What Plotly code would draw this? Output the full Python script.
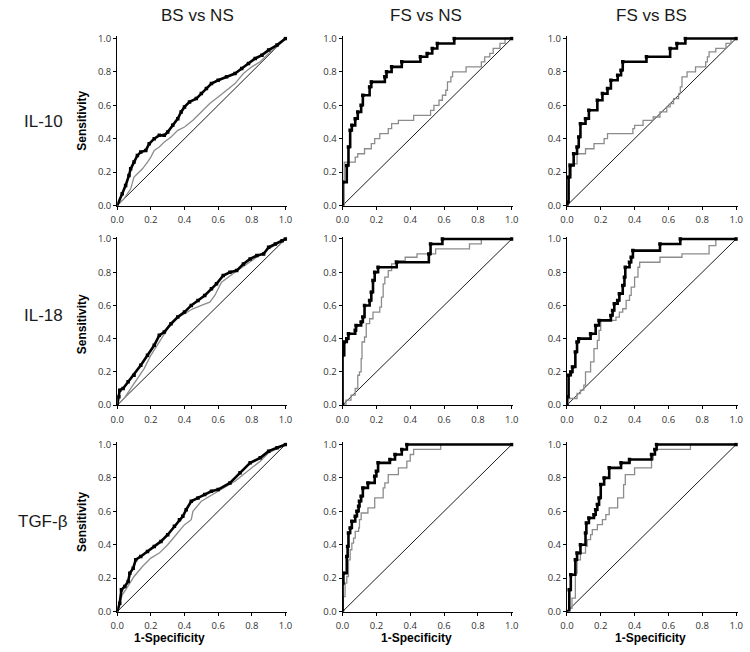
import plotly.graph_objects as go

# ---------------- data ----------------
col_titles = ["BS vs NS", "FS vs NS", "FS vs BS"]
row_labels = ["IL-10", "IL-18", "TGF-β"]
tick_vals = [0.0, 0.2, 0.4, 0.6, 0.8, 1.0]
diag = [0, 1]

# IL-10, BS vs NS
il10_bsns_black_x = [0, 0.03, 0.05, 0.07, 0.08, 0.10, 0.12, 0.14, 0.17, 0.19, 0.22, 0.25, 0.28, 0.30, 0.33, 0.36, 0.38, 0.40, 0.43, 0.47, 0.50, 0.53, 0.56, 0.60, 0.65, 0.70, 0.74, 0.78, 0.82, 0.86, 0.90, 0.95, 1.0]
il10_bsns_black_y = [0, 0.07, 0.12, 0.18, 0.22, 0.26, 0.30, 0.32, 0.33, 0.37, 0.40, 0.42, 0.42, 0.44, 0.48, 0.52, 0.56, 0.59, 0.62, 0.64, 0.67, 0.70, 0.73, 0.75, 0.77, 0.79, 0.82, 0.85, 0.88, 0.90, 0.93, 0.96, 1.0]
il10_bsns_gray_x = [0, 0.04, 0.08, 0.10, 0.12, 0.15, 0.18, 0.20, 0.22, 0.25, 0.28, 0.32, 0.36, 0.40, 0.45, 0.50, 0.55, 0.60, 0.65, 0.70, 0.75, 0.80, 0.85, 0.90, 0.95, 1.0]
il10_bsns_gray_y = [0, 0.04, 0.10, 0.17, 0.19, 0.22, 0.26, 0.29, 0.33, 0.35, 0.38, 0.41, 0.45, 0.47, 0.51, 0.56, 0.61, 0.65, 0.69, 0.73, 0.79, 0.83, 0.86, 0.91, 0.95, 1.0]

# IL-10, FS vs NS
il10_fsns_black_x = [0, 0, 0.025, 0.035, 0.045, 0.055, 0.075, 0.09, 0.11, 0.12, 0.16, 0.17, 0.25, 0.26, 0.29, 0.35, 0.46, 0.50, 0.53, 0.56, 0.66, 1.0]
il10_fsns_black_y = [0, 0.14, 0.24, 0.35, 0.45, 0.48, 0.52, 0.56, 0.60, 0.66, 0.71, 0.74, 0.77, 0.80, 0.83, 0.86, 0.89, 0.91, 0.94, 0.97, 1.0, 1.0]
il10_fsns_gray_x = [0, 0.01, 0.075, 0.09, 0.13, 0.17, 0.19, 0.22, 0.27, 0.29, 0.33, 0.42, 0.52, 0.54, 0.57, 0.59, 0.61, 0.62, 0.64, 0.65, 0.73, 0.82, 0.84, 0.87, 0.89, 0.93, 0.96, 1.0]
il10_fsns_gray_y = [0, 0.26, 0.29, 0.31, 0.34, 0.37, 0.40, 0.43, 0.46, 0.49, 0.51, 0.54, 0.57, 0.60, 0.63, 0.66, 0.69, 0.74, 0.77, 0.80, 0.83, 0.86, 0.89, 0.91, 0.94, 0.97, 1.0, 1.0]

# IL-10, FS vs BS
il10_fsbs_black_x = [0, 0, 0.01, 0.02, 0.04, 0.06, 0.07, 0.08, 0.11, 0.13, 0.18, 0.21, 0.24, 0.26, 0.30, 0.32, 0.33, 0.47, 0.61, 0.65, 0.70, 1.0]
il10_fsbs_black_y = [0, 0.02, 0.17, 0.24, 0.31, 0.35, 0.41, 0.49, 0.52, 0.57, 0.63, 0.67, 0.70, 0.75, 0.78, 0.81, 0.86, 0.89, 0.94, 0.97, 1.0, 1.0]
il10_fsbs_gray_x = [0, 0.01, 0.06, 0.11, 0.16, 0.22, 0.24, 0.39, 0.40, 0.45, 0.51, 0.55, 0.59, 0.61, 0.63, 0.66, 0.67, 0.68, 0.71, 0.76, 0.82, 0.83, 0.84, 0.88, 0.94, 0.97, 1.0]
il10_fsbs_gray_y = [0, 0.25, 0.31, 0.34, 0.37, 0.40, 0.43, 0.46, 0.48, 0.51, 0.53, 0.56, 0.59, 0.61, 0.64, 0.67, 0.71, 0.77, 0.80, 0.83, 0.86, 0.89, 0.92, 0.94, 0.97, 1.0, 1.0]

# IL-18, BS vs NS
il18_bsns_black_x = [0, 0.01, 0.015, 0.035, 0.065, 0.10, 0.14, 0.18, 0.22, 0.25, 0.28, 0.32, 0.36, 0.40, 0.44, 0.48, 0.52, 0.56, 0.59, 0.63, 0.67, 0.71, 0.75, 0.79, 0.83, 0.87, 0.90, 0.94, 0.98, 1.0]
il18_bsns_black_y = [0, 0.05, 0.09, 0.10, 0.14, 0.18, 0.24, 0.30, 0.36, 0.42, 0.44, 0.49, 0.53, 0.56, 0.60, 0.63, 0.66, 0.70, 0.73, 0.78, 0.80, 0.81, 0.85, 0.88, 0.90, 0.91, 0.95, 0.97, 0.99, 1.0]
il18_bsns_gray_x = [0, 0.04, 0.08, 0.12, 0.16, 0.20, 0.25, 0.30, 0.35, 0.40, 0.45, 0.50, 0.55, 0.58, 0.62, 0.70, 0.80, 0.90, 1.0]
il18_bsns_gray_y = [0, 0.04, 0.10, 0.16, 0.22, 0.30, 0.38, 0.46, 0.52, 0.55, 0.58, 0.60, 0.62, 0.66, 0.74, 0.80, 0.87, 0.94, 1.0]

# IL-18, FS vs NS
il18_fsns_black_x = [0, 0, 0.01, 0.025, 0.035, 0.075, 0.08, 0.11, 0.12, 0.13, 0.16, 0.17, 0.18, 0.19, 0.21, 0.32, 0.51, 0.52, 0.59, 1.0]
il18_fsns_black_y = [0, 0.30, 0.38, 0.40, 0.43, 0.45, 0.48, 0.50, 0.53, 0.60, 0.63, 0.68, 0.75, 0.80, 0.83, 0.86, 0.91, 0.97, 1.0, 1.0]
il18_fsns_gray_x = [0, 0.02, 0.05, 0.075, 0.09, 0.10, 0.11, 0.115, 0.13, 0.14, 0.16, 0.18, 0.22, 0.23, 0.24, 0.25, 0.27, 0.29, 0.31, 0.37, 0.44, 0.55, 0.75, 0.82, 1.0]
il18_fsns_gray_y = [0, 0.03, 0.06, 0.10, 0.18, 0.20, 0.28, 0.38, 0.41, 0.49, 0.52, 0.56, 0.59, 0.65, 0.73, 0.77, 0.81, 0.85, 0.87, 0.89, 0.91, 0.94, 0.97, 1.0, 1.0]

# IL-18, FS vs BS
il18_fsbs_black_x = [0, 0, 0.01, 0.023, 0.033, 0.05, 0.06, 0.07, 0.14, 0.17, 0.19, 0.26, 0.27, 0.28, 0.30, 0.31, 0.33, 0.34, 0.345, 0.37, 0.38, 0.39, 0.55, 0.67, 1.0]
il18_fsbs_black_y = [0, 0.05, 0.18, 0.20, 0.23, 0.32, 0.38, 0.40, 0.43, 0.48, 0.51, 0.54, 0.57, 0.61, 0.63, 0.67, 0.72, 0.77, 0.83, 0.86, 0.89, 0.93, 0.97, 1.0, 1.0]
il18_fsbs_gray_x = [0, 0.01, 0.06, 0.08, 0.10, 0.11, 0.14, 0.16, 0.18, 0.19, 0.20, 0.29, 0.31, 0.33, 0.35, 0.37, 0.38, 0.40, 0.42, 0.43, 0.55, 0.68, 0.84, 0.88, 1.0]
il18_fsbs_gray_y = [0, 0.04, 0.07, 0.09, 0.12, 0.20, 0.26, 0.34, 0.39, 0.45, 0.51, 0.53, 0.56, 0.58, 0.63, 0.66, 0.71, 0.77, 0.83, 0.86, 0.89, 0.91, 0.96, 1.0, 1.0]

# TGF-β, BS vs NS
tgf_bsns_black_x = [0, 0.015, 0.025, 0.045, 0.065, 0.075, 0.095, 0.11, 0.14, 0.18, 0.22, 0.26, 0.30, 0.34, 0.37, 0.39, 0.41, 0.44, 0.48, 0.52, 0.56, 0.60, 0.67, 0.73, 0.79, 0.85, 0.90, 0.95, 1.0]
tgf_bsns_black_y = [0, 0.05, 0.13, 0.15, 0.18, 0.23, 0.26, 0.31, 0.33, 0.36, 0.39, 0.42, 0.46, 0.51, 0.55, 0.57, 0.61, 0.66, 0.68, 0.70, 0.72, 0.73, 0.77, 0.83, 0.89, 0.92, 0.96, 0.98, 1.0]
tgf_bsns_gray_x = [0, 0.03, 0.05, 0.10, 0.15, 0.20, 0.25, 0.30, 0.35, 0.40, 0.44, 0.45, 0.50, 0.60, 0.70, 0.80, 0.85, 0.90, 1.0]
tgf_bsns_gray_y = [0, 0.10, 0.13, 0.21, 0.27, 0.32, 0.35, 0.40, 0.46, 0.52, 0.55, 0.60, 0.66, 0.72, 0.78, 0.86, 0.90, 0.95, 1.0]

# TGF-β, FS vs NS
tgf_fsns_black_x = [0, 0, 0.005, 0.025, 0.03, 0.035, 0.045, 0.055, 0.075, 0.085, 0.095, 0.10, 0.11, 0.12, 0.15, 0.19, 0.20, 0.21, 0.28, 0.31, 0.35, 0.38, 1.0]
tgf_fsns_black_y = [0, 0.17, 0.23, 0.33, 0.39, 0.47, 0.50, 0.54, 0.57, 0.60, 0.63, 0.66, 0.69, 0.74, 0.77, 0.81, 0.84, 0.89, 0.91, 0.94, 0.97, 1.0, 1.0]
tgf_fsns_gray_x = [0, 0.005, 0.015, 0.025, 0.035, 0.045, 0.055, 0.065, 0.075, 0.095, 0.10, 0.11, 0.15, 0.19, 0.24, 0.25, 0.27, 0.33, 0.38, 0.40, 0.42, 0.58, 1.0]
tgf_fsns_gray_y = [0, 0.09, 0.17, 0.21, 0.31, 0.37, 0.41, 0.44, 0.48, 0.50, 0.55, 0.59, 0.62, 0.68, 0.74, 0.77, 0.82, 0.86, 0.90, 0.94, 0.97, 1.0, 1.0]

# TGF-β, FS vs BS
tgf_fsbs_black_x = [0, 0.014, 0.023, 0.05, 0.06, 0.08, 0.11, 0.115, 0.13, 0.16, 0.17, 0.18, 0.19, 0.20, 0.22, 0.25, 0.32, 0.37, 0.50, 0.52, 0.53, 1.0]
tgf_fsbs_black_y = [0, 0.13, 0.22, 0.31, 0.35, 0.40, 0.47, 0.53, 0.56, 0.58, 0.61, 0.64, 0.68, 0.76, 0.80, 0.86, 0.89, 0.91, 0.94, 0.97, 1.0, 1.0]
tgf_fsbs_gray_x = [0, 0.01, 0.03, 0.05, 0.06, 0.08, 0.11, 0.12, 0.14, 0.15, 0.18, 0.21, 0.23, 0.25, 0.30, 0.335, 0.345, 0.40, 0.50, 0.51, 0.52, 0.73, 1.0]
tgf_fsbs_gray_y = [0, 0.02, 0.08, 0.23, 0.31, 0.35, 0.39, 0.43, 0.46, 0.49, 0.52, 0.55, 0.58, 0.62, 0.68, 0.76, 0.82, 0.86, 0.91, 0.94, 0.97, 1.0, 1.0]

panels = [
    [(il10_bsns_black_x, il10_bsns_black_y, il10_bsns_gray_x, il10_bsns_gray_y, "linear"),
     (il10_fsns_black_x, il10_fsns_black_y, il10_fsns_gray_x, il10_fsns_gray_y, "hv"),
     (il10_fsbs_black_x, il10_fsbs_black_y, il10_fsbs_gray_x, il10_fsbs_gray_y, "hv")],
    [(il18_bsns_black_x, il18_bsns_black_y, il18_bsns_gray_x, il18_bsns_gray_y, "linear"),
     (il18_fsns_black_x, il18_fsns_black_y, il18_fsns_gray_x, il18_fsns_gray_y, "hv"),
     (il18_fsbs_black_x, il18_fsbs_black_y, il18_fsbs_gray_x, il18_fsbs_gray_y, "hv")],
    [(tgf_bsns_black_x, tgf_bsns_black_y, tgf_bsns_gray_x, tgf_bsns_gray_y, "linear"),
     (tgf_fsns_black_x, tgf_fsns_black_y, tgf_fsns_gray_x, tgf_fsns_gray_y, "hv"),
     (tgf_fsbs_black_x, tgf_fsbs_black_y, tgf_fsbs_gray_x, tgf_fsbs_gray_y, "hv")],
]

# ---------------- layout geometry (pixels) ----------------
W, H = 750, 652
col_px = [(112, 283), (341, 513), (569, 741)]   # x=0 .. x=1
row_px = [(34, 204), (238, 407), (447, 617)]    # y=1 .. y=0
XMAX, YMAX = 1.01, 1.012

fig = go.Figure()
layout = dict(
    width=W, height=H,
    margin=dict(l=0, r=0, t=0, b=0),
    paper_bgcolor="white", plot_bgcolor="white",
    showlegend=False,
    annotations=[],
)

tick_font = dict(family="Open Sans, Lato, sans-serif", size=9.5, color="#333333")

for r in range(3):
    for c in range(3):
        k = r * 3 + c + 1
        xs = "" if k == 1 else str(k)
        bx, by, gx, gy, shape = panels[r][c]
        x0, x1 = col_px[c]
        ytop, ybot = row_px[r]
        unit_x = x1 - x0
        unit_y = ybot - ytop
        dx = [x0 / W, (x0 + unit_x * XMAX) / W]
        dy = [1 - ybot / H, 1 - (ybot - unit_y * YMAX) / H]
        axis_common = dict(
            showgrid=False, zeroline=False, showline=True, linecolor="black", linewidth=1,
            ticks="outside", ticklen=3, tickcolor="black", tickwidth=1,
            tickvals=tick_vals, tickformat=".1f", tickfont=tick_font, fixedrange=True,
        )
        layout["xaxis" + xs] = dict(axis_common, domain=dx, range=[0, XMAX], anchor="y" + xs,
                                    ticklabelstandoff=2)
        layout["yaxis" + xs] = dict(axis_common, domain=dy, range=[0, YMAX], anchor="x" + xs)

        fig.add_trace(go.Scatter(x=diag, y=diag, mode="lines",
                                 line=dict(color="black", width=0.9),
                                 xaxis="x" + xs, yaxis="y" + xs, hoverinfo="skip"))
        fig.add_trace(go.Scatter(x=gx, y=gy, mode="lines",
                                 line=dict(color="#8c8c8c", width=1.3, shape=shape),
                                 xaxis="x" + xs, yaxis="y" + xs))
        fig.add_trace(go.Scatter(x=bx, y=by, mode="lines+markers",
                                 line=dict(color="black", width=2.6, shape=shape),
                                 marker=dict(color="black", size=3.5, symbol="square"),
                                 xaxis="x" + xs, yaxis="y" + xs))

title_font = dict(family="Liberation Sans, Arial, sans-serif", size=17, color="#1a1a1a")
axis_title_font = dict(family="Liberation Sans, Arial, sans-serif", size=12, color="black")

col_title_x = [194, 426, 655]
for c, t in enumerate(col_titles):
    layout["annotations"].append(dict(text=t, x=col_title_x[c] / W, y=1 - 11 / H, xref="paper", yref="paper",
                                      showarrow=False, font=title_font, xanchor="center", yanchor="middle"))
row_label_y = [118, 316, 525]
for r, t in enumerate(row_labels):
    layout["annotations"].append(dict(text=t, x=37 / W, y=1 - row_label_y[r] / H, xref="paper", yref="paper",
                                      showarrow=False, font=title_font, xanchor="center", yanchor="middle"))
sens_y = [118, 325, 526]
for r in range(3):
    layout["annotations"].append(dict(text="<b>Sensitivity</b>", x=76 / W, y=1 - sens_y[r] / H, xref="paper",
                                      yref="paper", showarrow=False, font=axis_title_font, textangle=-90,
                                      xanchor="center", yanchor="middle"))
spec_x = [165, 416, 654]
for c in range(3):
    layout["annotations"].append(dict(text="<b>1-Specificity</b>", x=spec_x[c] / W, y=1 - 644 / H, xref="paper",
                                      yref="paper", showarrow=False, font=axis_title_font,
                                      xanchor="center", yanchor="middle"))

fig.update_layout(**layout)
fig.write_html("out.html", config={"displayModeBar": False},
               post_script="document.body.style.margin='0px';document.body.style.overflow='hidden';")
